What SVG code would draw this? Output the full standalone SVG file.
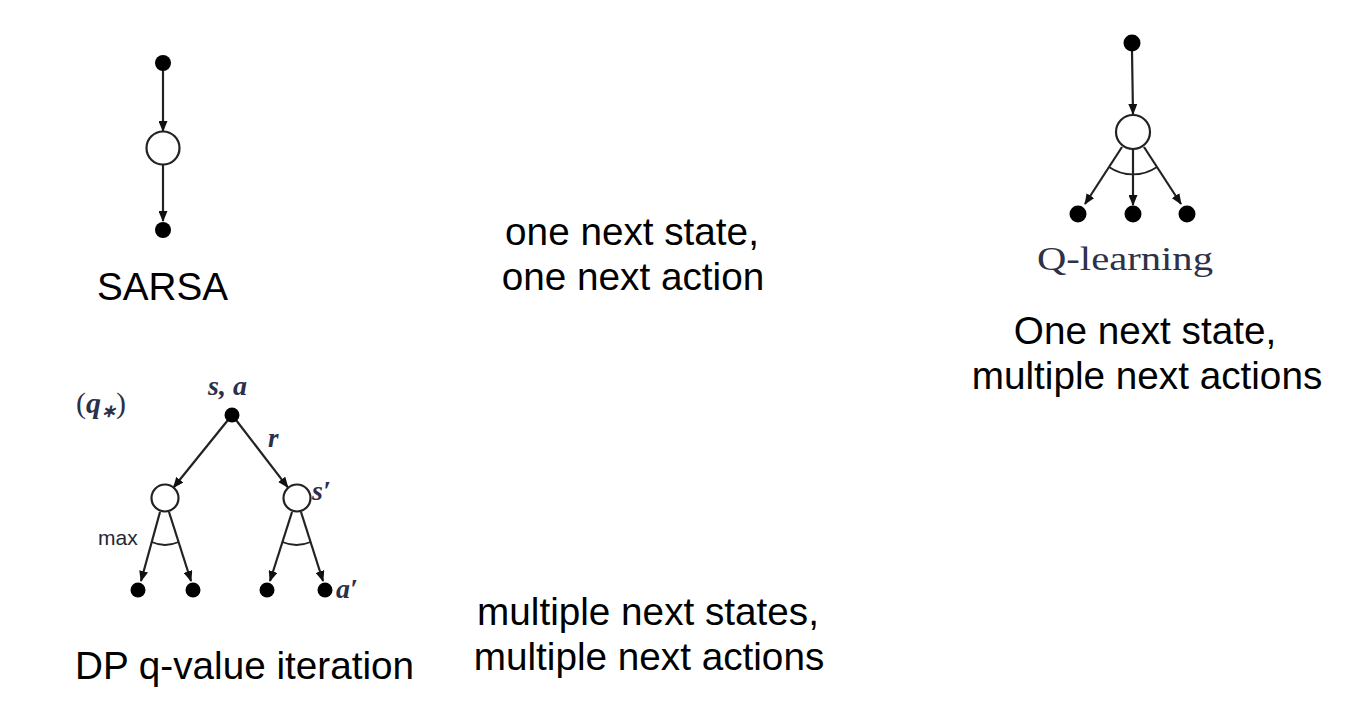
<svg xmlns="http://www.w3.org/2000/svg" width="1350" height="714" viewBox="0 0 1350 714">
<style>
.lbl{font-family:"Liberation Sans",Arial,sans-serif;font-size:38.7px;fill:#000}
.math{font-family:"Liberation Serif","Times New Roman",serif;font-style:italic;font-weight:bold;fill:#2b2f4a}
.edge{stroke:#222;stroke-width:2.2;fill:none}
.arc{stroke:#222;stroke-width:1.8;fill:none}
.dot{fill:#000}
.st{fill:#fff;stroke:#222;stroke-width:2.2}
</style>
<defs>
<marker id="ah" markerUnits="userSpaceOnUse" markerWidth="11" markerHeight="9" refX="10" refY="4.5" orient="auto">
<path d="M0,0 L11,4.5 L0,9 Z" fill="#111"/>
</marker>
</defs>
<rect width="1350" height="714" fill="#fff"/>

<g id="connectors">
<line class="edge" x1="163" y1="70" x2="163" y2="131" marker-end="url(#ah)"/>
<line class="edge" x1="163" y1="165" x2="163" y2="221" marker-end="url(#ah)"/>
<line class="edge" x1="1132" y1="51" x2="1133" y2="114" marker-end="url(#ah)"/>
<line class="edge" x1="1122" y1="147" x2="1085" y2="204" marker-end="url(#ah)"/>
<line class="edge" x1="1133" y1="149" x2="1133" y2="205" marker-end="url(#ah)"/>
<line class="edge" x1="1144" y1="147" x2="1181" y2="204" marker-end="url(#ah)"/>
<path class="arc" d="M1109,167 A42.4,42.4 0 0 0 1157,167"/>
<line class="edge" x1="228" y1="420" x2="173.5" y2="487.5" marker-end="url(#ah)"/>
<line class="edge" x1="236" y1="420" x2="287.8" y2="487.3" marker-end="url(#ah)"/>
<line class="edge" x1="160" y1="512" x2="141" y2="581" marker-end="url(#ah)"/>
<line class="edge" x1="169" y1="512" x2="191" y2="581" marker-end="url(#ah)"/>
<path class="arc" d="M151.7,542 Q165,548 178.6,542"/>
<line class="edge" x1="292" y1="512" x2="270" y2="581" marker-end="url(#ah)"/>
<line class="edge" x1="301" y1="512" x2="323" y2="581" marker-end="url(#ah)"/>
<path class="arc" d="M282.4,542 Q296.5,548 310.6,542"/>
</g>

<g id="sarsa">
<circle class="dot" cx="163" cy="63" r="8"/>
<circle class="st" cx="163" cy="148" r="16.5"/>
<circle class="dot" cx="163" cy="230" r="8"/>
<text class="lbl" x="97" y="300">SARSA</text>
</g>

<g id="qlearning">
<circle class="dot" cx="1132" cy="43" r="8.5"/>
<circle class="st" cx="1133" cy="132" r="17"/>
<circle class="dot" cx="1078" cy="214" r="8.5"/>
<circle class="dot" cx="1133" cy="214" r="8.5"/>
<circle class="dot" cx="1187" cy="214" r="8.5"/>
<text x="1037" y="270" font-family="'Liberation Serif','Times New Roman',serif" font-size="33" fill="#2e3148" textLength="176" lengthAdjust="spacingAndGlyphs">Q-learning</text>
</g>

<g id="dp">
<text class="math" x="76" y="413" font-size="30"><tspan font-style="normal" font-weight="normal">(</tspan><tspan>q</tspan><tspan font-size="18" dy="4">∗</tspan><tspan dy="-4" font-style="normal" font-weight="normal">)</tspan></text>
<text class="math" x="208" y="395" font-size="28">s, a</text>
<circle class="dot" cx="232" cy="415" r="7.5"/>
<text class="math" x="268" y="447" font-size="27">r</text>
<circle class="st" cx="165" cy="498" r="13.5"/>
<circle class="st" cx="297" cy="498" r="13.5"/>
<text class="math" x="312" y="500" font-size="28">s′</text>
<text x="98" y="545" font-family="'Liberation Sans',Arial,sans-serif" font-size="21" fill="#222838">max</text>
<circle class="dot" cx="138" cy="590" r="7.5"/>
<circle class="dot" cx="193" cy="590" r="7.5"/>
<circle class="dot" cx="267" cy="590" r="7.5"/>
<circle class="dot" cx="325" cy="590" r="7.5"/>
<text class="math" x="336" y="598" font-size="28">a′</text>
<text class="lbl" x="75" y="679">DP q-value iteration</text>
</g>

<g id="captions">
<text class="lbl" x="632" y="245" text-anchor="middle">one next state,</text>
<text class="lbl" x="633" y="290" text-anchor="middle">one next action</text>
<text class="lbl" x="1145" y="344" text-anchor="middle">One next state,</text>
<text class="lbl" x="1147" y="389" text-anchor="middle">multiple next actions</text>
<text class="lbl" x="648" y="625" text-anchor="middle">multiple next states,</text>
<text class="lbl" x="649" y="670" text-anchor="middle">multiple next actions</text>
</g>
</svg>
